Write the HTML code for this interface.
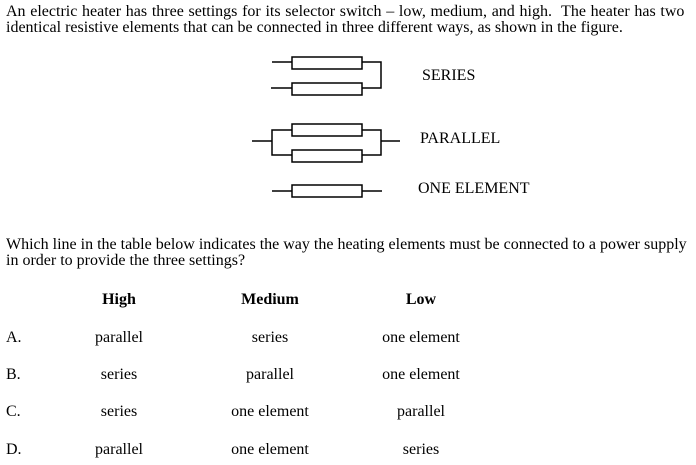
<!DOCTYPE html>
<html><head><meta charset="utf-8"><style>
body{margin:0;width:696px;height:465px;background:#fff;position:relative;overflow:hidden;font-family:"Liberation Serif",serif;font-size:16px;color:#000}
.t{position:absolute;white-space:nowrap;line-height:16px}
.c{position:absolute;white-space:nowrap;line-height:16px;transform:translateX(-50%)}
</style></head><body>
<div class="t" style="left:6px;top:4px;word-spacing:0.7px">An electric heater has three settings for its selector switch – low, medium, and high.&nbsp; The heater has two</div>
<div class="t" style="left:6px;top:20px">identical resistive elements that can be connected in three different ways, as shown in the figure.</div>
<svg style="position:absolute;left:0;top:0" width="696" height="465">
<g fill="none" stroke="#000" stroke-width="1.5">
<rect x="292" y="57" width="70" height="12"/>
<rect x="292" y="83" width="70" height="12"/>
<path d="M272 62H292M362 62H381V88H362M271 88H292"/>
<rect x="292" y="124" width="70" height="12"/>
<rect x="292" y="150" width="70" height="12"/>
<path d="M252 141H272M292 130H272V155H292M362 130H381V155H362M381 141H400"/>
<rect x="292" y="185" width="70" height="12"/>
<path d="M272 191H292M362 191H382"/>
</g></svg>
<div class="t" style="left:422px;top:68px">SERIES</div>
<div class="t" style="left:420px;top:131px">PARALLEL</div>
<div class="t" style="left:418px;top:181px">ONE ELEMENT</div>
<div class="t" style="left:6px;top:237px">Which line in the table below indicates the way the heating elements must be connected to a power supply</div>
<div class="t" style="left:6px;top:253px">in order to provide the three settings?</div>
<div class="c" style="left:119px;top:292px;font-weight:bold">High</div>
<div class="c" style="left:270px;top:292px;font-weight:bold">Medium</div>
<div class="c" style="left:421px;top:292px;font-weight:bold">Low</div>
<div class="t" style="left:6px;top:330px">A.</div>
<div class="c" style="left:119px;top:330px">parallel</div><div class="c" style="left:270px;top:330px">series</div><div class="c" style="left:421px;top:330px">one element</div>
<div class="t" style="left:6px;top:367px">B.</div>
<div class="c" style="left:119px;top:367px">series</div><div class="c" style="left:270px;top:367px">parallel</div><div class="c" style="left:421px;top:367px">one element</div>
<div class="t" style="left:6px;top:404px">C.</div>
<div class="c" style="left:119px;top:404px">series</div><div class="c" style="left:270px;top:404px">one element</div><div class="c" style="left:421px;top:404px">parallel</div>
<div class="t" style="left:6px;top:442px">D.</div>
<div class="c" style="left:119px;top:442px">parallel</div><div class="c" style="left:270px;top:442px">one element</div><div class="c" style="left:421px;top:442px">series</div>
</body></html>
